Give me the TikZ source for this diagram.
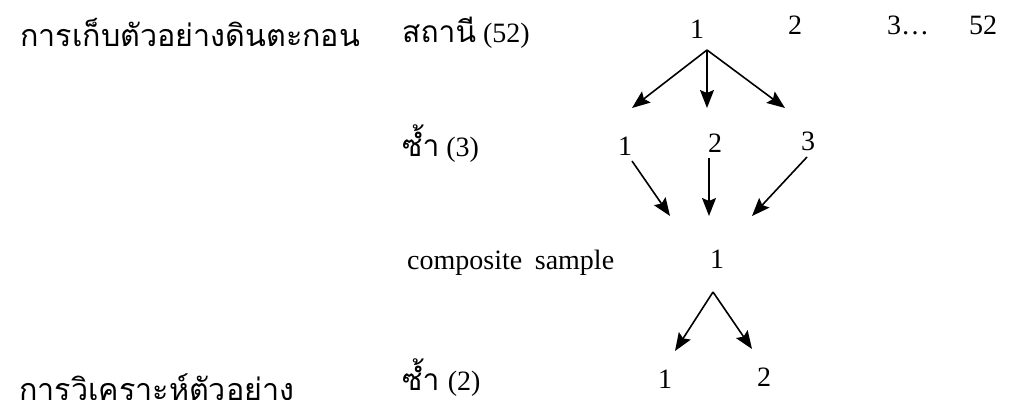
\documentclass[tikz,border=0pt]{standalone}
\usepackage{fontspec}
\setmainfont{Liberation Serif}
\newfontfamily\thai[Script=Thai]{Loma}
\usetikzlibrary{arrows.meta}
\newcommand{\thword}[1]{{\thai\fontsize{30}{34}\selectfont #1}}
\tikzset{
  lbl/.style={anchor=base west, inner sep=0pt, font=\fontsize{28}{32}\selectfont},
  num/.style={anchor=base, inner sep=0pt, font=\fontsize{28}{32}\selectfont},
  thaititle/.style={anchor=base west, inner sep=0pt, font=\thai\fontsize{30.5}{34}\selectfont},
  arr/.style={line width=1.6pt, -{Stealth[length=18pt,width=14pt,inset=3pt]}}
}
\begin{document}
\begin{tikzpicture}[x=1pt,y=-1pt]
\useasboundingbox (0,0) rectangle (1012,399);
% row 1
\node[thaititle] (title1) at (20,46) {การเก็บตัวอย่างดินตะกอน};
\node[lbl] (stn) at (402,42) {\thword{สถานี} (52)};
\node[num] (t1) at (697,38) {1};
\node[num] (t2) at (795,34) {2};
\node[lbl] (t3) at (887,34) {3…};
\node[num] (t52) at (983,34) {52};
% row 2
\node[lbl] (rep3) at (402,156) {\thword{ซ้ำ} (3)};
\node[num] (r1) at (625,155) {1};
\node[num] (r2) at (715,152) {2};
\node[num] (r3) at (808,150) {3};
% row 3
\node[lbl] (comp) at (407,269) {composite\hspace{0.45em}sample};
\node[num] (c1) at (717,268) {1};
% row 4
\node[lbl] (rep2) at (402,390) {\thword{ซ้ำ}\hspace{0.3em}(2)};
\node[num] (b1) at (665,388) {1};
\node[num] (b2) at (764,386) {2};
\node[thaititle] (title2) at (19,400) {การวิเคราะห์ตัวอย่าง};
% connector end points
\coordinate (s1) at (707,50);
\coordinate (e1) at (632,108);
\coordinate (e2) at (707,108);
\coordinate (e3) at (785,108);
\coordinate (u1) at (632,161);
\coordinate (u2) at (709,158);
\coordinate (u3) at (807,157);
\coordinate (v1) at (670,216);
\coordinate (v2) at (709,216);
\coordinate (v3) at (752,216);
\coordinate (s3) at (713,292);
\coordinate (w1) at (675,351);
\coordinate (w2) at (752,349);
\draw[arr] (s1) -- (e1);
\draw[arr] (s1) -- (e2);
\draw[arr] (s1) -- (e3);
\draw[arr] (u1) -- (v1);
\draw[arr] (u2) -- (v2);
\draw[arr] (u3) -- (v3);
\draw[arr] (s3) -- (w1);
\draw[arr] (s3) -- (w2);
\end{tikzpicture}
\end{document}
